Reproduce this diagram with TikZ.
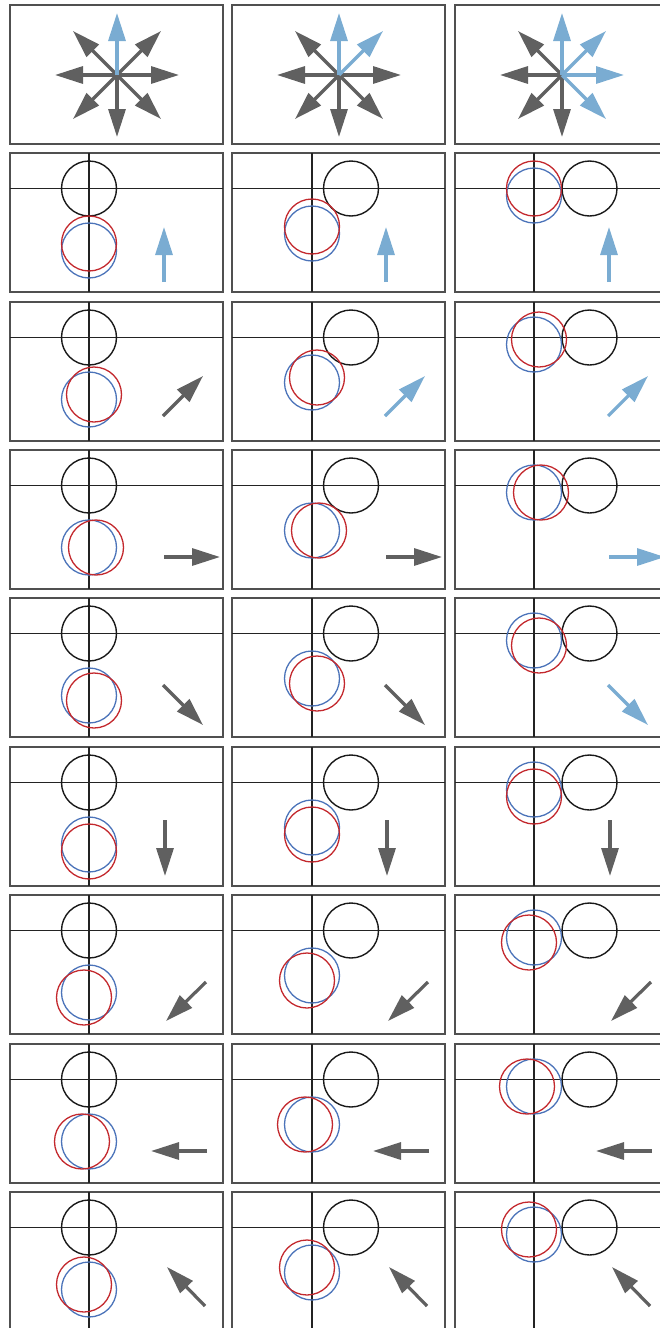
\documentclass[tikz,border=0pt]{standalone}
\usetikzlibrary{arrows.meta}
\begin{document}
\begin{tikzpicture}[x=1pt,y=-1pt,
  panelframe/.style={draw={rgb,255:red,80;green,80;blue,80},line width=1.7pt},
  axisline/.style={draw={rgb,255:red,35;green,35;blue,35},line width=1.2pt},
  fixedcirc/.style={draw={rgb,255:red,25;green,25;blue,25},line width=1.4pt},
  startcirc/.style={draw={rgb,255:red,75;green,115;blue,185},line width=1.3pt},
  movedcirc/.style={draw={rgb,255:red,195;green,40;blue,45},line width=1.3pt},
  greyarrow/.style={draw={rgb,255:red,96;green,96;blue,96},line width=3.2pt,-{Triangle[length=28pt,width=17pt]}},
  bluearrow/.style={draw={rgb,255:red,122;green,172;blue,210},line width=3.2pt,-{Triangle[length=28pt,width=17pt]}}]
\path[use as bounding box] (0,0) rectangle (659,1328);
% row 1: direction keys
\draw[panelframe] (10,5) rectangle (223,144);
\draw[greyarrow] (117,75) -- (161,31);
\draw[greyarrow] (117,75) -- (179,75);
\draw[greyarrow] (117,75) -- (161,119);
\draw[greyarrow] (117,75) -- (117,137);
\draw[greyarrow] (117,75) -- (73,119);
\draw[greyarrow] (117,75) -- (55,75);
\draw[greyarrow] (117,75) -- (73,31);
\draw[bluearrow] (117,75) -- (117,13);
\draw[panelframe] (232,5) rectangle (445,144);
\draw[greyarrow] (339,75) -- (401,75);
\draw[greyarrow] (339,75) -- (383,119);
\draw[greyarrow] (339,75) -- (339,137);
\draw[greyarrow] (339,75) -- (295,119);
\draw[greyarrow] (339,75) -- (277,75);
\draw[greyarrow] (339,75) -- (295,31);
\draw[bluearrow] (339,75) -- (339,13);
\draw[bluearrow] (339,75) -- (383,31);
\draw[panelframe] (455,5) rectangle (668,144);
\draw[greyarrow] (562,75) -- (562,137);
\draw[greyarrow] (562,75) -- (518,119);
\draw[greyarrow] (562,75) -- (500,75);
\draw[greyarrow] (562,75) -- (518,31);
\draw[bluearrow] (562,75) -- (562,13);
\draw[bluearrow] (562,75) -- (606,31);
\draw[bluearrow] (562,75) -- (624,75);
\draw[bluearrow] (562,75) -- (606,119);
% row 2: up
\draw[panelframe] (10,153) rectangle (223,292);
\draw[axisline] (10,188.5) -- (223,188.5);
\draw[axisline] (89,153) -- (89,292);
\draw[fixedcirc] (89,188.5) circle[radius=27.5pt];
\draw[startcirc] (89,250.5) circle[radius=27.5pt];
\draw[movedcirc] (89,243.5) circle[radius=27.5pt];
\draw[bluearrow] (164,282) -- (164,227);
\draw[panelframe] (232,153) rectangle (445,292);
\draw[axisline] (232,188.5) -- (445,188.5);
\draw[axisline] (312,153) -- (312,292);
\draw[fixedcirc] (351,188.5) circle[radius=27.5pt];
\draw[startcirc] (312,233.5) circle[radius=27.5pt];
\draw[movedcirc] (312,226.5) circle[radius=27.5pt];
\draw[bluearrow] (386,282) -- (386,227);
\draw[panelframe] (455,153) rectangle (668,292);
\draw[axisline] (455,188.5) -- (668,188.5);
\draw[axisline] (534,153) -- (534,292);
\draw[fixedcirc] (589.5,188.5) circle[radius=27.5pt];
\draw[startcirc] (534,195.5) circle[radius=27.5pt];
\draw[movedcirc] (534,188.5) circle[radius=27.5pt];
\draw[bluearrow] (609,282) -- (609,227);
% row 3: up right
\draw[panelframe] (10,302) rectangle (223,441);
\draw[axisline] (10,337.5) -- (223,337.5);
\draw[axisline] (89,302) -- (89,441);
\draw[fixedcirc] (89,337.5) circle[radius=27.5pt];
\draw[startcirc] (89,399.5) circle[radius=27.5pt];
\draw[movedcirc] (94,394.5) circle[radius=27.5pt];
\draw[greyarrow] (163,416) -- (203,376);
\draw[panelframe] (232,302) rectangle (445,441);
\draw[axisline] (232,337.5) -- (445,337.5);
\draw[axisline] (312,302) -- (312,441);
\draw[fixedcirc] (351,337.5) circle[radius=27.5pt];
\draw[startcirc] (312,382.5) circle[radius=27.5pt];
\draw[movedcirc] (317,377.5) circle[radius=27.5pt];
\draw[bluearrow] (385,416) -- (425,376);
\draw[panelframe] (455,302) rectangle (668,441);
\draw[axisline] (455,337.5) -- (668,337.5);
\draw[axisline] (534,302) -- (534,441);
\draw[fixedcirc] (589.5,337.5) circle[radius=27.5pt];
\draw[startcirc] (534,344.5) circle[radius=27.5pt];
\draw[movedcirc] (539,339.5) circle[radius=27.5pt];
\draw[bluearrow] (608,416) -- (648,376);
% row 4: right
\draw[panelframe] (10,450) rectangle (223,589);
\draw[axisline] (10,485.5) -- (223,485.5);
\draw[axisline] (89,450) -- (89,589);
\draw[fixedcirc] (89,485.5) circle[radius=27.5pt];
\draw[startcirc] (89,547.5) circle[radius=27.5pt];
\draw[movedcirc] (96,547.5) circle[radius=27.5pt];
\draw[greyarrow] (164,557) -- (220,557);
\draw[panelframe] (232,450) rectangle (445,589);
\draw[axisline] (232,485.5) -- (445,485.5);
\draw[axisline] (312,450) -- (312,589);
\draw[fixedcirc] (351,485.5) circle[radius=27.5pt];
\draw[startcirc] (312,530.5) circle[radius=27.5pt];
\draw[movedcirc] (319,530.5) circle[radius=27.5pt];
\draw[greyarrow] (386,557) -- (442,557);
\draw[panelframe] (455,450) rectangle (668,589);
\draw[axisline] (455,485.5) -- (668,485.5);
\draw[axisline] (534,450) -- (534,589);
\draw[fixedcirc] (589.5,485.5) circle[radius=27.5pt];
\draw[startcirc] (534,492.5) circle[radius=27.5pt];
\draw[movedcirc] (541,492.5) circle[radius=27.5pt];
\draw[bluearrow] (609,557) -- (665,557);
% row 5: down right
\draw[panelframe] (10,598) rectangle (223,737);
\draw[axisline] (10,633.5) -- (223,633.5);
\draw[axisline] (89,598) -- (89,737);
\draw[fixedcirc] (89,633.5) circle[radius=27.5pt];
\draw[startcirc] (89,695.5) circle[radius=27.5pt];
\draw[movedcirc] (94,700.5) circle[radius=27.5pt];
\draw[greyarrow] (163,685) -- (203,725);
\draw[panelframe] (232,598) rectangle (445,737);
\draw[axisline] (232,633.5) -- (445,633.5);
\draw[axisline] (312,598) -- (312,737);
\draw[fixedcirc] (351,633.5) circle[radius=27.5pt];
\draw[startcirc] (312,678.5) circle[radius=27.5pt];
\draw[movedcirc] (317,683.5) circle[radius=27.5pt];
\draw[greyarrow] (385,685) -- (425,725);
\draw[panelframe] (455,598) rectangle (668,737);
\draw[axisline] (455,633.5) -- (668,633.5);
\draw[axisline] (534,598) -- (534,737);
\draw[fixedcirc] (589.5,633.5) circle[radius=27.5pt];
\draw[startcirc] (534,640.5) circle[radius=27.5pt];
\draw[movedcirc] (539,645.5) circle[radius=27.5pt];
\draw[bluearrow] (608,685) -- (648,725);
% row 6: down
\draw[panelframe] (10,747) rectangle (223,886);
\draw[axisline] (10,782.5) -- (223,782.5);
\draw[axisline] (89,747) -- (89,886);
\draw[fixedcirc] (89,782.5) circle[radius=27.5pt];
\draw[startcirc] (89,844.5) circle[radius=27.5pt];
\draw[movedcirc] (89,851.5) circle[radius=27.5pt];
\draw[greyarrow] (165,820) -- (165,876);
\draw[panelframe] (232,747) rectangle (445,886);
\draw[axisline] (232,782.5) -- (445,782.5);
\draw[axisline] (312,747) -- (312,886);
\draw[fixedcirc] (351,782.5) circle[radius=27.5pt];
\draw[startcirc] (312,827.5) circle[radius=27.5pt];
\draw[movedcirc] (312,834.5) circle[radius=27.5pt];
\draw[greyarrow] (387,820) -- (387,876);
\draw[panelframe] (455,747) rectangle (668,886);
\draw[axisline] (455,782.5) -- (668,782.5);
\draw[axisline] (534,747) -- (534,886);
\draw[fixedcirc] (589.5,782.5) circle[radius=27.5pt];
\draw[startcirc] (534,789.5) circle[radius=27.5pt];
\draw[movedcirc] (534,796.5) circle[radius=27.5pt];
\draw[greyarrow] (610,820) -- (610,876);
% row 7: down left
\draw[panelframe] (10,895) rectangle (223,1034);
\draw[axisline] (10,930.5) -- (223,930.5);
\draw[axisline] (89,895) -- (89,1034);
\draw[fixedcirc] (89,930.5) circle[radius=27.5pt];
\draw[startcirc] (89,992.5) circle[radius=27.5pt];
\draw[movedcirc] (84,997.5) circle[radius=27.5pt];
\draw[greyarrow] (206,982) -- (166,1021);
\draw[panelframe] (232,895) rectangle (445,1034);
\draw[axisline] (232,930.5) -- (445,930.5);
\draw[axisline] (312,895) -- (312,1034);
\draw[fixedcirc] (351,930.5) circle[radius=27.5pt];
\draw[startcirc] (312,975.5) circle[radius=27.5pt];
\draw[movedcirc] (307,980.5) circle[radius=27.5pt];
\draw[greyarrow] (428,982) -- (388,1021);
\draw[panelframe] (455,895) rectangle (668,1034);
\draw[axisline] (455,930.5) -- (668,930.5);
\draw[axisline] (534,895) -- (534,1034);
\draw[fixedcirc] (589.5,930.5) circle[radius=27.5pt];
\draw[startcirc] (534,937.5) circle[radius=27.5pt];
\draw[movedcirc] (529,942.5) circle[radius=27.5pt];
\draw[greyarrow] (651,982) -- (611,1021);
% row 8: left
\draw[panelframe] (10,1044) rectangle (223,1183);
\draw[axisline] (10,1079.5) -- (223,1079.5);
\draw[axisline] (89,1044) -- (89,1183);
\draw[fixedcirc] (89,1079.5) circle[radius=27.5pt];
\draw[startcirc] (89,1141.5) circle[radius=27.5pt];
\draw[movedcirc] (82,1141.5) circle[radius=27.5pt];
\draw[greyarrow] (207,1151) -- (151,1151);
\draw[panelframe] (232,1044) rectangle (445,1183);
\draw[axisline] (232,1079.5) -- (445,1079.5);
\draw[axisline] (312,1044) -- (312,1183);
\draw[fixedcirc] (351,1079.5) circle[radius=27.5pt];
\draw[startcirc] (312,1124.5) circle[radius=27.5pt];
\draw[movedcirc] (305,1124.5) circle[radius=27.5pt];
\draw[greyarrow] (429,1151) -- (373,1151);
\draw[panelframe] (455,1044) rectangle (668,1183);
\draw[axisline] (455,1079.5) -- (668,1079.5);
\draw[axisline] (534,1044) -- (534,1183);
\draw[fixedcirc] (589.5,1079.5) circle[radius=27.5pt];
\draw[startcirc] (534,1086.5) circle[radius=27.5pt];
\draw[movedcirc] (527,1086.5) circle[radius=27.5pt];
\draw[greyarrow] (652,1151) -- (596,1151);
% row 9: up left
\draw[panelframe] (10,1192) rectangle (223,1331);
\draw[axisline] (10,1227.5) -- (223,1227.5);
\draw[axisline] (89,1192) -- (89,1331);
\draw[fixedcirc] (89,1227.5) circle[radius=27.5pt];
\draw[startcirc] (89,1289.5) circle[radius=27.5pt];
\draw[movedcirc] (84,1284.5) circle[radius=27.5pt];
\draw[greyarrow] (205,1306) -- (167,1267);
\draw[panelframe] (232,1192) rectangle (445,1331);
\draw[axisline] (232,1227.5) -- (445,1227.5);
\draw[axisline] (312,1192) -- (312,1331);
\draw[fixedcirc] (351,1227.5) circle[radius=27.5pt];
\draw[startcirc] (312,1272.5) circle[radius=27.5pt];
\draw[movedcirc] (307,1267.5) circle[radius=27.5pt];
\draw[greyarrow] (427,1306) -- (389,1267);
\draw[panelframe] (455,1192) rectangle (668,1331);
\draw[axisline] (455,1227.5) -- (668,1227.5);
\draw[axisline] (534,1192) -- (534,1331);
\draw[fixedcirc] (589.5,1227.5) circle[radius=27.5pt];
\draw[startcirc] (534,1234.5) circle[radius=27.5pt];
\draw[movedcirc] (529,1229.5) circle[radius=27.5pt];
\draw[greyarrow] (650,1306) -- (612,1267);
\end{tikzpicture}
\end{document}
